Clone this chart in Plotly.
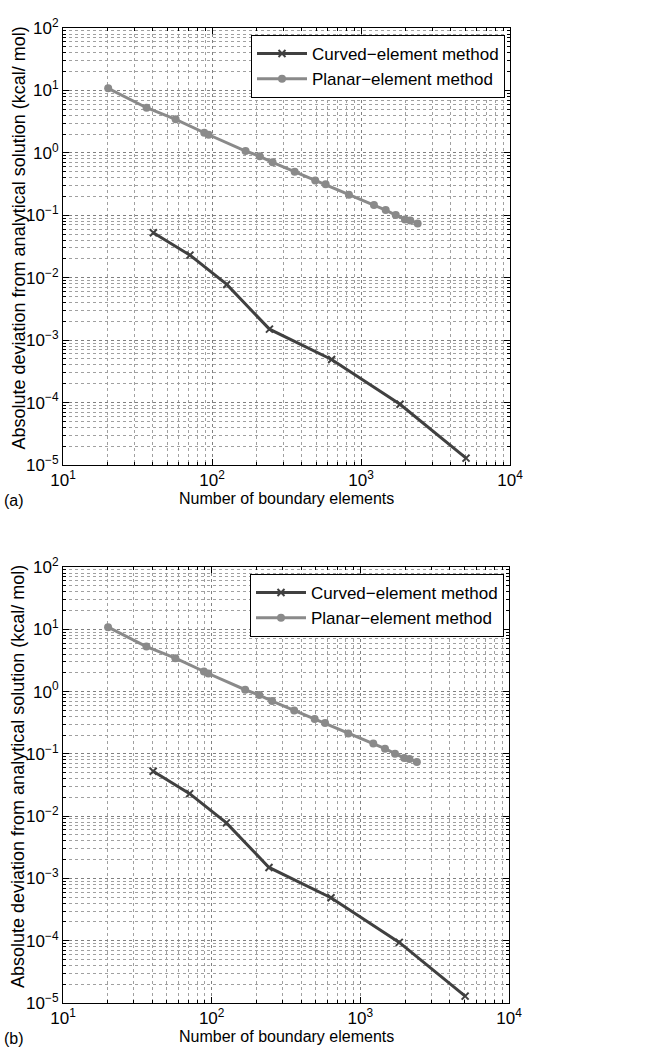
import plotly.graph_objects as go

# Data (same data in panels a and b)
planar_n = [20.1, 36.4, 57, 88.7, 95, 168, 209, 255, 359, 493, 579, 830, 1222, 1465, 1711, 1972, 2142, 2400]
planar_dev = [10.8, 5.28, 3.44, 2.10, 1.95, 1.07, 0.88, 0.705, 0.498, 0.362, 0.313, 0.213, 0.146, 0.121, 0.1007, 0.0859, 0.0828, 0.0742]
curved_n = [40.4, 71.1, 125.6, 243, 635, 1828, 5070]
curved_dev = [0.0525, 0.023, 0.0078, 0.0015, 0.00049, 9.4e-5, 1.29e-5]

x_tickvals = [10, 100, 1000, 10000]
x_ticktext = ["10<sup>1</sup>", "10<sup>2</sup>", "10<sup>3</sup>", "10<sup>4</sup>"]
y_tickvals = [1e-5, 1e-4, 1e-3, 1e-2, 1e-1, 1, 10, 100]
y_ticktext = ["10<sup>−5</sup>", "10<sup>−4</sup>", "10<sup>−3</sup>", "10<sup>−2</sup>",
              "10<sup>−1</sup>", "10<sup>0</sup>", "10<sup>1</sup>", "10<sup>2</sup>"]
panel_labels = ["(a)", "(b)"]
curved_name = "Curved−element method"
planar_name = "Planar−element method"
x_title = "Number of boundary elements"
y_title = "Absolute deviation from analytical solution (kcal/ mol)"

W, H = 649, 1057
FONT = "Liberation Sans, Arial, Helvetica, sans-serif"
CURVED_COLOR = "#404040"
PLANAR_COLOR = "#8a8a8a"

fig = go.Figure()

# panel pixel boxes: (left, top, right, bottom)
panels = [(63, 28, 510, 465), (63, 567, 509, 1003)]

for i, (l, t, r, b) in enumerate(panels):
    sfx = "" if i == 0 else str(i + 1)
    leg = "legend" if i == 0 else "legend2"
    fig.add_trace(go.Scatter(
        x=curved_n, y=curved_dev, mode="lines+markers", name=curved_name,
        line=dict(color=CURVED_COLOR, width=3),
        marker=dict(symbol="x-thin", size=7, line=dict(color=CURVED_COLOR, width=2), color=CURVED_COLOR),
        xaxis="x" + sfx, yaxis="y" + sfx, legend=leg))
    fig.add_trace(go.Scatter(
        x=planar_n, y=planar_dev, mode="lines+markers", name=planar_name,
        line=dict(color=PLANAR_COLOR, width=3),
        marker=dict(symbol="circle", size=8, color=PLANAR_COLOR),
        xaxis="x" + sfx, yaxis="y" + sfx, legend=leg))

    xdom = [l / W, r / W]
    ydom = [(H - b) / H, (H - t) / H]
    common = dict(
        type="log", showline=True, linecolor="black", linewidth=1, mirror="allticks",
        ticks="inside", ticklen=6, tickcolor="black", automargin=False,
        showgrid=True, gridcolor="#808080", griddash="dot", gridwidth=1,
        zeroline=False, tickfont=dict(family=FONT, size=17, color="black"),
        minor=dict(dtick="D1", ticks="inside", ticklen=3, tickcolor="black",
                   showgrid=True, gridcolor="#a0a0a0", griddash="dot", gridwidth=1),
    )
    fig.update_layout(**{
        "xaxis" + sfx: dict(common, domain=xdom, range=[1, 4], anchor="y" + sfx,
                            tickvals=x_tickvals, ticktext=x_ticktext),
        "yaxis" + sfx: dict(common, domain=ydom, range=[-5, 2], anchor="x" + sfx,
                            tickvals=y_tickvals, ticktext=y_ticktext),
        leg: dict(x=(r - 5) / W, y=(H - t - 7) / H, xanchor="right", yanchor="top",
                  bgcolor="white", bordercolor="black", borderwidth=1,
                  font=dict(family=FONT, size=17, color="black"),
                  itemwidth=50, tracegroupgap=0),
    })

    # axis titles and panel labels
    fig.add_annotation(x=(l + r) / 2 / W, y=(H - b - 33) / H, xref="paper", yref="paper",
                       text=x_title, showarrow=False, xanchor="center", yanchor="middle",
                       font=dict(family=FONT, size=16, color="black"))
    fig.add_annotation(x=18 / W, y=(H - (t + b) / 2 + 8) / H, xref="paper", yref="paper",
                       text=y_title, textangle=-90, showarrow=False, xanchor="center", yanchor="middle",
                       font=dict(family=FONT, size=18, color="black"))
    fig.add_annotation(x=2 / W, y=(H - b - 35) / H, xref="paper", yref="paper",
                       text=panel_labels[i], showarrow=False, xanchor="left", yanchor="middle",
                       font=dict(family=FONT, size=16, color="black"))

fig.update_layout(width=W, height=H, margin=dict(l=0, r=0, t=0, b=0),
                  paper_bgcolor="white", plot_bgcolor="white", showlegend=True)

fig.write_html("out.html")
